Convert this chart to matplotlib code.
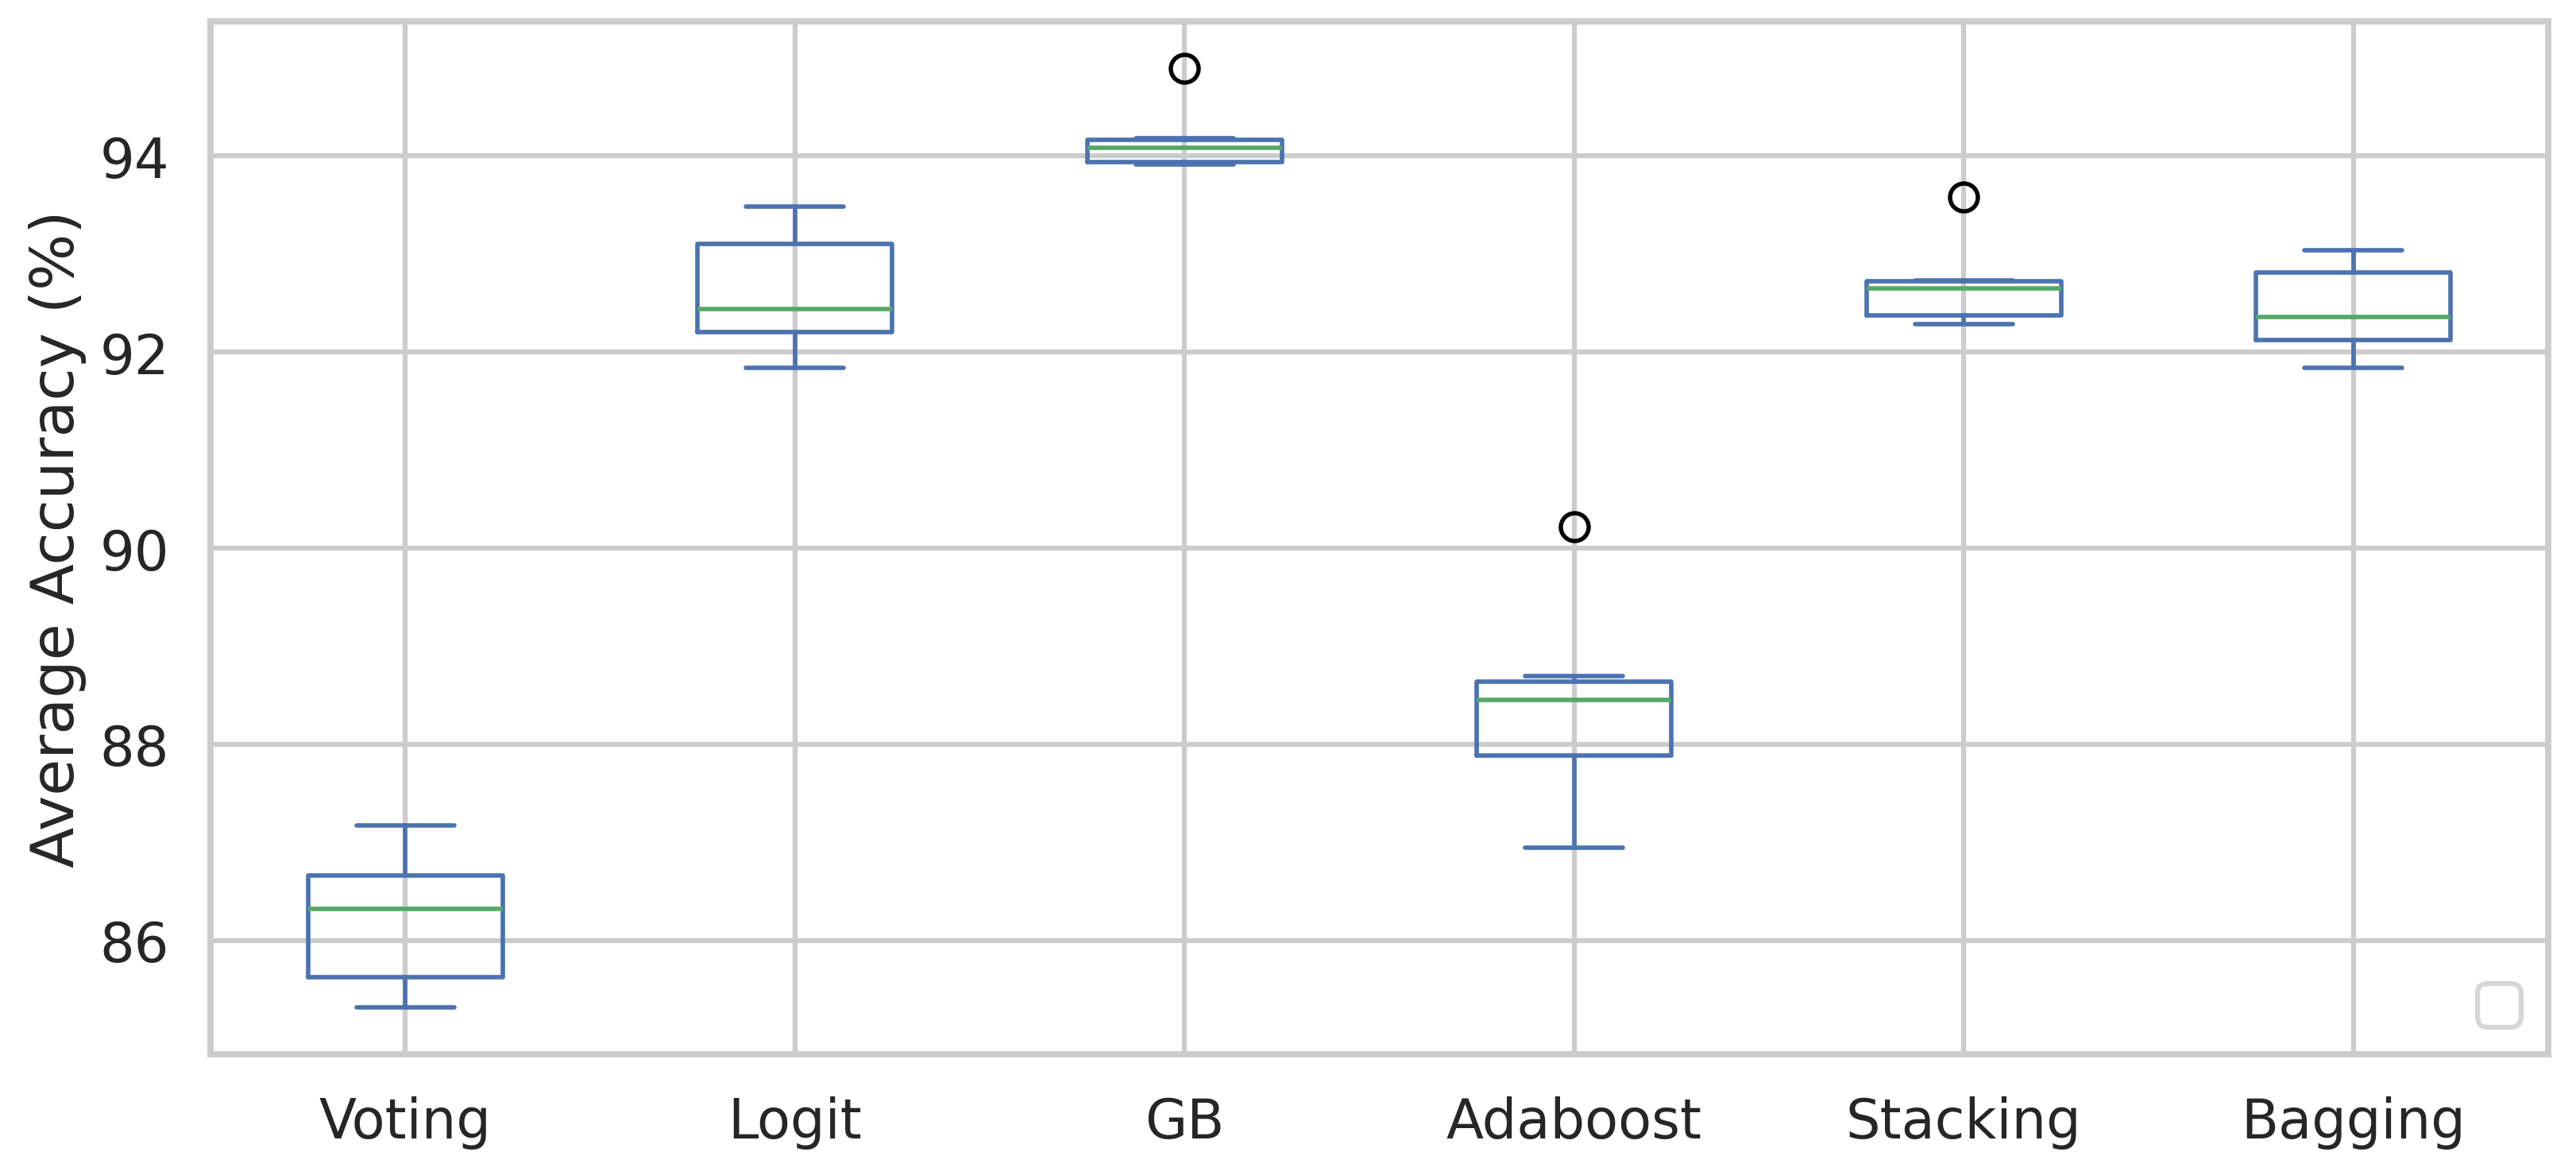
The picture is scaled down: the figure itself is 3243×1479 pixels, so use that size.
import matplotlib
matplotlib.use("Agg")
import matplotlib.pyplot as plt
import seaborn as sns

# five-number summaries, plus outliers
models = ['Voting', 'Logit', 'GB', 'Adaboost', 'Stacking', 'Bagging']
whis_low = [85.32, 91.84, 93.91, 86.95, 92.28, 91.84]
q1 = [85.63, 92.20, 93.94, 87.89, 92.37, 92.12]
median = [86.32, 92.44, 94.08, 88.45, 92.65, 92.36]
q3 = [86.66, 93.10, 94.16, 88.64, 92.72, 92.81]
whis_high = [87.17, 93.48, 94.18, 88.70, 92.73, 93.04]
outliers = [[], [], [94.89], [90.22], [93.58], []]

sns.set_theme(style='whitegrid', context='talk')

fig = plt.figure(figsize=(10.81, 4.9333), dpi=300)
ax = fig.add_axes([0.0817, 0.1027, 0.9892 - 0.0817, 0.981 - 0.1027])

stats = []
for i, name in enumerate(models):
    stats.append({
        'label': name,
        'whislo': whis_low[i],
        'q1': q1[i],
        'med': median[i],
        'q3': q3[i],
        'whishi': whis_high[i],
        'fliers': outliers[i],
    })

blue = '#4c72b0'
green = '#55a868'
lw = 1.35
ax.bxp(stats, widths=0.5,
       boxprops=dict(color=blue, linewidth=lw),
       whiskerprops=dict(color=blue, linewidth=lw),
       capprops=dict(color=blue, linewidth=lw),
       medianprops=dict(color=green, linewidth=lw),
       flierprops=dict(marker='o', markerfacecolor='none',
                       markeredgecolor='black', markersize=8.4,
                       markeredgewidth=1.3))

ax.set_ylabel('Average Accuracy (%)')
ax.legend(loc='lower right')

fig.savefig('out.png', dpi=300)
